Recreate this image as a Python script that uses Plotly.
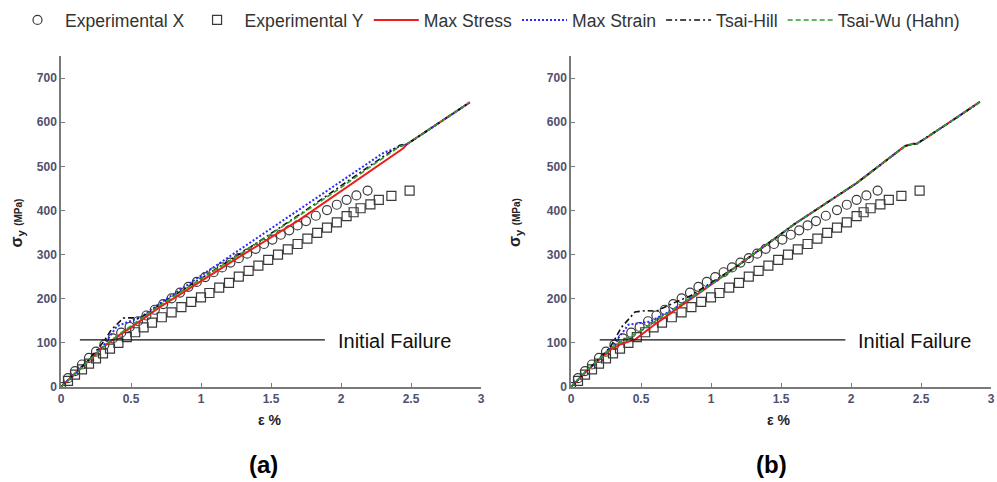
import plotly.graph_objects as go

# ---- experimental data (strain %, stress MPa) ----
exp_x_strain = [0.00, 0.05, 0.10, 0.15, 0.20, 0.25, 0.31, 0.37, 0.43, 0.49, 0.55, 0.61, 0.67,
                0.73, 0.79, 0.85, 0.91, 0.97, 1.03, 1.09, 1.15, 1.21, 1.27, 1.33, 1.39, 1.45,
                1.51, 1.57, 1.63, 1.69, 1.75, 1.82, 1.90, 1.97, 2.04, 2.11, 2.19]
exp_x_stress = [0, 20, 36, 51, 66, 80, 96, 110, 123, 136, 149, 162, 175,
                188, 201, 214, 227, 238, 249, 260, 271, 282, 292, 302, 313, 324,
                334, 345, 355, 366, 376, 388, 401, 413, 424, 434, 445]

exp_y_strain = [0.00, 0.05, 0.10, 0.15, 0.20, 0.25, 0.30, 0.35, 0.41, 0.47, 0.53, 0.59, 0.65,
                0.72, 0.79, 0.86, 0.93, 1.00, 1.06, 1.13, 1.20, 1.27, 1.34, 1.41, 1.48, 1.55,
                1.62, 1.69, 1.76, 1.83, 1.90, 1.97, 2.04, 2.09, 2.14, 2.21, 2.27, 2.36, 2.49]
exp_y_stress = [0, 14, 28, 40, 53, 65, 76, 87, 100, 113, 124, 135, 146,
                158, 169, 181, 193, 203, 213, 225, 236, 250, 263, 275, 288, 300,
                312, 324, 336, 349, 361, 373, 387, 396, 405, 414, 424, 433, 445]

# ---- predictions, panel (a) ----
a_maxstress_strain = [0, 0.1, 0.2, 0.3, 0.4, 0.5, 0.7, 1.0, 1.3, 1.7, 2.0, 2.2, 2.445, 2.47, 2.6, 2.75, 2.92]
a_maxstress_stress = [0, 30, 60, 90, 114, 135, 180, 240, 300, 378, 444, 488, 541, 550, 577, 608, 645]

a_maxstrain_strain = [0, 0.1, 0.2, 0.3, 0.36, 0.40, 0.5, 0.56, 0.7, 1.0, 1.3, 1.7, 1.95, 2.15, 2.3, 2.42, 2.47, 2.6, 2.75, 2.92]
a_maxstrain_stress = [0, 30, 60, 92, 120, 138, 150, 156, 188, 252, 315, 402, 454, 498, 530, 545, 550, 577, 608, 645]

a_tsaihill_strain = [0, 0.1, 0.2, 0.31, 0.36, 0.445, 0.5, 0.564, 0.64, 0.7, 1.0, 1.3, 1.7, 2.0, 2.2, 2.38, 2.42, 2.47, 2.6, 2.75, 2.92]
a_tsaihill_stress = [0, 30, 62, 105, 130, 156, 157, 156, 171, 186, 246, 306, 390, 455, 500, 538, 548, 550, 577, 608, 645]

a_tsaiwu_strain = [0, 0.1, 0.2, 0.3, 0.4, 0.5, 0.7, 1.0, 1.3, 1.7, 2.0, 2.2, 2.42, 2.47, 2.6, 2.75, 2.92]
a_tsaiwu_stress = [0, 30, 60, 90, 116, 138, 184, 245, 305, 388, 452, 497, 545, 550, 577, 608, 645]

# ---- predictions, panel (b) ----
b_maxstress_strain = [0, 0.1, 0.2, 0.28, 0.35, 0.46, 0.6, 0.8, 1.0, 1.2, 1.6, 2.04, 2.386, 2.445, 2.47, 2.55, 2.73, 2.92]
b_maxstress_stress = [0, 33, 62, 84, 96, 108, 142, 186, 232, 277, 370, 462, 546, 551, 551, 567, 605, 646]

b_maxstrain_strain = [0, 0.1, 0.2, 0.3, 0.41, 0.56, 0.68, 0.8, 1.0, 1.2, 1.6, 2.04, 2.386, 2.445, 2.47, 2.55, 2.73, 2.92]
b_maxstrain_stress = [0, 33, 62, 95, 141, 148, 167, 190, 233, 277, 370, 462, 546, 551, 551, 567, 605, 646]

b_tsaihill_strain = [0, 0.1, 0.2, 0.28, 0.36, 0.457, 0.53, 0.61, 0.73, 0.85, 1.0, 1.2, 1.6, 2.04, 2.386, 2.445, 2.47, 2.55, 2.73, 2.92]
b_tsaihill_stress = [0, 33, 64, 90, 135, 170, 173, 172, 190, 206, 236, 277, 370, 462, 546, 551, 551, 567, 605, 646]

b_tsaiwu_strain = [0, 0.1, 0.2, 0.3, 0.5, 0.7, 1.0, 1.2, 1.6, 2.04, 2.386, 2.445, 2.47, 2.55, 2.73, 2.92]
b_tsaiwu_stress = [0, 33, 63, 92, 128, 170, 232, 277, 370, 462, 546, 551, 551, 567, 605, 646]

# ---- initial-failure markers ----
init_fail_a = dict(x0=0.135, x1=1.885, y=107)
init_fail_b = dict(x0=0.205, x1=1.960, y=107)
init_fail_label = "Initial Failure"

legend_names = ["Experimental X", "Experimental Y", "Max Stress", "Max Strain", "Tsai-Hill", "Tsai-Wu (Hahn)"]
panel_labels = ["(a)", "(b)"]

W, H = 997, 482
TICK_COLOR = "#50506e"
AXIS_COLOR = "#7a7a7a"


def px_x(p):
    return p / W


def px_y(p):
    return 1 - p / H


fig = go.Figure()

panels = [
    ("x", "y", (a_maxstress_strain, a_maxstress_stress), (a_maxstrain_strain, a_maxstrain_stress),
     (a_tsaihill_strain, a_tsaihill_stress), (a_tsaiwu_strain, a_tsaiwu_stress), True),
    ("x2", "y2", (b_maxstress_strain, b_maxstress_stress), (b_maxstrain_strain, b_maxstrain_stress),
     (b_tsaihill_strain, b_tsaihill_stress), (b_tsaiwu_strain, b_tsaiwu_stress), False),
]

for xa, ya, ms, mst, th, tw, show in panels:
    fig.add_trace(go.Scatter(x=exp_x_strain, y=exp_x_stress, mode="markers", name=legend_names[0],
                             legendgroup="ex", showlegend=show, xaxis=xa, yaxis=ya,
                             marker=dict(symbol="circle-open", size=9, color="#3a3a3a", line=dict(width=1.2))))
    fig.add_trace(go.Scatter(x=exp_y_strain, y=exp_y_stress, mode="markers", name=legend_names[1],
                             legendgroup="ey", showlegend=show, xaxis=xa, yaxis=ya,
                             marker=dict(symbol="square-open", size=9, color="#3a3a3a", line=dict(width=1.2))))
    fig.add_trace(go.Scatter(x=ms[0], y=ms[1], mode="lines", name=legend_names[2],
                             legendgroup="ms", showlegend=show, xaxis=xa, yaxis=ya,
                             line=dict(color="#ee1c1c", width=2)))
    fig.add_trace(go.Scatter(x=mst[0], y=mst[1], mode="lines", name=legend_names[3],
                             legendgroup="mst", showlegend=show, xaxis=xa, yaxis=ya,
                             line=dict(color="#2a2aff", width=2, dash="2px,2px")))
    fig.add_trace(go.Scatter(x=th[0], y=th[1], mode="lines", name=legend_names[4],
                             legendgroup="th", showlegend=show, xaxis=xa, yaxis=ya,
                             line=dict(color="#111111", width=1.6, dash="6px,3px,2px,3px")))
    fig.add_trace(go.Scatter(x=tw[0], y=tw[1], mode="lines", name=legend_names[5],
                             legendgroup="tw", showlegend=show, xaxis=xa, yaxis=ya,
                             line=dict(color="#2ca02c", width=1.6, dash="5px,3px")))

# initial-failure horizontal lines
for xa, ya, f in [("x", "y", init_fail_a), ("x2", "y2", init_fail_b)]:
    fig.add_trace(go.Scatter(x=[f["x0"], f["x1"]], y=[f["y"], f["y"]], mode="lines",
                             showlegend=False, hoverinfo="skip", xaxis=xa, yaxis=ya,
                             line=dict(color="#111111", width=1.3)))

axis_common = dict(
    showgrid=False, zeroline=False, showline=True, linecolor=AXIS_COLOR, linewidth=1.5,
    ticks="inside", ticklen=4, tickcolor=AXIS_COLOR, tickwidth=1.2,
    tickfont=dict(family="Liberation Sans, Arial", size=12, color=TICK_COLOR, weight="bold"),
)

x_ticks = [0, 0.5, 1, 1.5, 2, 2.5, 3]
x_tick_text = ["0", "0.5", "1", "1.5", "2", "2.5", "3"]
y_ticks = [0, 100, 200, 300, 400, 500, 600, 700]

y_bottom, y_top = 387, 56
fig.update_layout(
    width=W, height=H, autosize=False,
    margin=dict(l=0, r=0, t=0, b=0, autoexpand=False),
    paper_bgcolor="white", plot_bgcolor="white",
    xaxis=dict(domain=[px_x(61), px_x(481)], range=[0, 3], anchor="y",
               tickvals=x_ticks, ticktext=x_tick_text, **axis_common),
    yaxis=dict(domain=[px_y(y_bottom), px_y(y_top)], range=[0, 750], anchor="x",
               tickvals=y_ticks, **axis_common),
    xaxis2=dict(domain=[px_x(571), px_x(991)], range=[0, 3], anchor="y2",
                tickvals=x_ticks, ticktext=x_tick_text, **axis_common),
    yaxis2=dict(domain=[px_y(y_bottom), px_y(y_top)], range=[0, 750], anchor="x2",
                tickvals=y_ticks, **axis_common),
    showlegend=True,
    legend=dict(orientation="h", x=px_x(10), y=px_y(2), xanchor="left", yanchor="top",
                font=dict(family="Liberation Sans, Arial", size=17.6, color="#333333"),
                itemwidth=45, bgcolor="rgba(0,0,0,0)", tracegroupgap=0),
)

FONT = "Liberation Sans, Arial"
annotations = []
# (axis-title x, eps-label left edge, initial-failure label left edge) per panel
for sig_x, eps_x, if_x in [(5, 256, 336), (515, 765, 856)]:
    annotations.append(dict(text="σ<sub>y</sub> <span style='font-size:10px'>(MPa)</span>",
                            x=px_x(sig_x), y=px_y(223), xref="paper", yref="paper",
                            textangle=-90, showarrow=False,
                            font=dict(family=FONT, size=16, color="#222222", weight="bold")))
    annotations.append(dict(text="ε %", x=px_x(eps_x), y=px_y(430), xref="paper", yref="paper",
                            xanchor="left", showarrow=False,
                            font=dict(family=FONT, size=14, color="#222222", weight="bold")))
    annotations.append(dict(text=init_fail_label, x=px_x(if_x), y=px_y(354), xref="paper", yref="paper",
                            xanchor="left", showarrow=False,
                            font=dict(family=FONT, size=20, color="#111111")))

for lab, lx in zip(panel_labels, [247, 754]):
    annotations.append(dict(text=lab, x=px_x(lx), y=px_y(480), xref="paper", yref="paper",
                            xanchor="left", showarrow=False,
                            font=dict(family=FONT, size=24, color="#000000", weight="bold")))

fig.update_layout(annotations=annotations)

fig.write_html("out.html")
